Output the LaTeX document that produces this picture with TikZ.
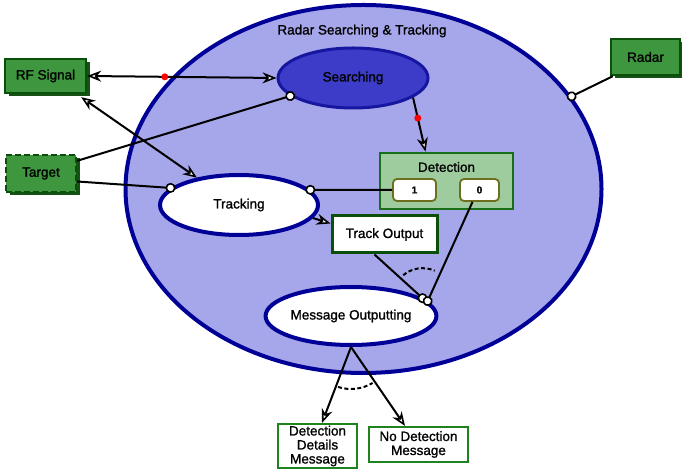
\documentclass[tikz,border=0pt]{standalone}
\usepackage{fontspec}
\setmainfont[FakeBold=1.2]{Liberation Sans}
\usetikzlibrary{shapes.geometric,arrows.meta,shadows}

\definecolor{lavender}{RGB}{166,166,234}
\definecolor{navy}{RGB}{0,0,150}
\definecolor{searchfill}{RGB}{60,60,200}
\definecolor{searchline}{RGB}{22,22,160}
\definecolor{boxgreen}{RGB}{62,150,62}
\definecolor{boxline}{RGB}{10,80,10}
\definecolor{shadowgreen}{RGB}{22,82,22}
\definecolor{detfill}{RGB}{158,204,158}
\definecolor{detline}{RGB}{25,110,25}
\definecolor{portline}{RGB}{110,110,30}
\definecolor{outline}{RGB}{30,130,30}

\begin{document}
\begin{tikzpicture}[x=1pt,y=1pt,
  font=\fontsize{13.5}{15}\selectfont,
  openhead/.tip={Stealth[open,fill=white,length=14pt,width=11pt,inset=4.5pt,line width=1.6pt]},
  conn/.style={draw=black,line width=2pt},
  dotend/.style={-{Circle[open,fill=white,length=10pt,width=10pt,line width=1.6pt]},shorten >=-5pt},
  reddot/.style={circle,fill=red,inner sep=0pt,minimum size=7pt},
  state/.style={ellipse,draw=navy,line width=4pt,fill=white,inner sep=0pt},
  greenbox/.style={rectangle,draw=boxline,line width=2.4pt,fill=boxgreen,inner sep=0pt,
    drop shadow={shadow xshift=3.5pt,shadow yshift=-3.5pt,fill=shadowgreen,opacity=1}},
  port/.style={rectangle,rounded corners=4pt,draw=portline,line width=1.8pt,fill=white,
    inner sep=0pt,minimum width=41pt,minimum height=22pt,font=\bfseries\fontsize{10}{12}\selectfont},
  msgbox/.style={rectangle,draw=outline,line width=2.2pt,fill=white,inner sep=1pt,align=center,
    font=\fontsize{13.5}{14}\selectfont}
]
\useasboundingbox (0,0) rectangle (682,471);

% outer state
\node[ellipse,draw=navy,line width=4pt,fill=lavender,inner sep=0pt,
  minimum width=476pt,minimum height=368pt] (radarst) at (363.5,282) {};
\node (title) at (362,440) {Radar Searching \& Tracking};

% inner states
\node[ellipse,draw=searchline,line width=3pt,fill=searchfill,inner sep=0pt,
  minimum width=150pt,minimum height=60pt] (search) at (353,393) {Searching};
\node[state,minimum width=158pt,minimum height=60pt] (track) at (239,266) {Tracking};
\node[state,minimum width=154pt,minimum height=58pt] (msg) at (351,155) {Message Outputting};

% detection with its two outcomes
\node[rectangle,draw=detline,line width=2.8pt,fill=detfill,inner sep=0pt,
  minimum width=133pt,minimum height=56pt] (det) at (446.5,290) {};
\node (dettitle) at (446.5,304) {Detection};
\node[port,minimum width=43pt] (p1) at (414.5,281) {1};
\node[port,minimum width=39pt] (p0) at (479.5,281) {0};

\node[rectangle,draw=boxline,line width=3pt,fill=white,inner sep=0pt,
  minimum width=105pt,minimum height=37pt] (tout) at (384.5,236.5) {Track Output};

% external actors
\node[greenbox,minimum width=81pt,minimum height=34pt] (rf) at (45.5,395) {RF Signal};
\node[greenbox,dashed,dash pattern=on 6pt off 3pt,minimum width=70pt,minimum height=37pt] (tgt) at (41,297.5) {Target};
\node[greenbox,minimum width=69pt,minimum height=36pt] (radar) at (645.5,414) {Radar};

% outputs
\node[msgbox,minimum width=79pt,minimum height=44pt] (ddm) at (317.5,25) {Detection\\Details\\Message};
\node[msgbox,minimum width=99pt,minimum height=35pt] (ndm) at (418.5,26.5) {No Detection\\Message};

% connectors
\draw[conn,{openhead}-{openhead}] (rf.east) -- (search.west)
  node[reddot,pos=0.41] (rd1) {};
\draw[conn,{openhead}-{openhead}] ([xshift=-6pt,yshift=-3pt]rf.south east) -- (track.147);
\draw[conn,dotend] ([yshift=-7pt]tgt.north east) -- (search.196);
\draw[conn,dotend] ([yshift=-8pt]tgt.east) -- (track.166);
\draw[conn,dotend] ([xshift=3pt]radar.south west) -- (radarst.24);
\draw[conn,-{openhead}] (search.-18) -- ([xshift=-21pt]det.north)
  node[reddot,pos=0.38] (rd2) {};
\draw[conn,dotend] (p1.west) -- (track.12);
\draw[conn,-{openhead}] (track.-10) -- ([yshift=11pt]tout.west);
\draw[conn,dotend] ([xshift=-10pt]tout.south) -- (msg.14);
\draw[conn,dotend] ([xshift=-7pt]p0.south) -- (msg.11);
\draw[conn,dashed,dash pattern=on 4pt off 2.5pt] (msg.14) ++(130:30pt) arc[start angle=130,end angle=66,radius=30pt];

\draw[conn,-{openhead}] (msg.south) -- ([xshift=4.5pt]ddm.north);
\draw[conn,-{openhead}] (msg.south) -- ([xshift=-13.5pt]ndm.north);
\draw[conn,dashed,dash pattern=on 4pt off 2.5pt] (msg.south) ++(-108:42pt) arc[start angle=-108,end angle=-59,radius=42pt];
\end{tikzpicture}
\end{document}
